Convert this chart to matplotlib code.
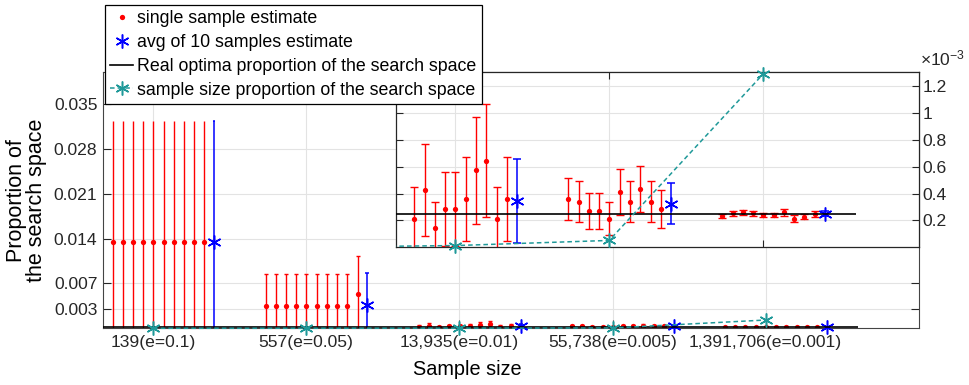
import numpy as np
import matplotlib.pyplot as plt
from matplotlib.lines import Line2D
from matplotlib.ticker import FuncFormatter

plt.rcParams['font.family'] = ['Liberation Sans', 'DejaVu Sans']
plt.rcParams['mathtext.default'] = 'regular'

# sample sizes (x categories)
sample_labels = ['139(e=0.1)', '557(e=0.05)', '13,935(e=0.01)',
                 '55,738(e=0.005)', '1,391,706(e=0.001)']
group_pos = [1, 2, 3, 4, 5]

# estimate from each of the 10 single samples, per sample size
single_est = [
    [0.0135, 0.0135, 0.0135, 0.0135, 0.0135, 0.0135, 0.0135, 0.0135, 0.0135, 0.0135],
    [0.00353, 0.00353, 0.00353, 0.00353, 0.00353, 0.00353, 0.00353, 0.00353, 0.00353, 0.00534],
    [0.000210, 0.000427, 0.000140, 0.000284, 0.000284, 0.000357, 0.000572, 0.000646, 0.000210, 0.000357],
    [0.000359, 0.000339, 0.000270, 0.000270, 0.000214, 0.000414, 0.000339, 0.000434, 0.000339, 0.000287],
    [0.000232, 0.000252, 0.000259, 0.000252, 0.000242, 0.000242, 0.000259, 0.000212, 0.000227, 0.000247],
]
single_err = [
    [0.0189, 0.0189, 0.0189, 0.0189, 0.0189, 0.0189, 0.0189, 0.0189, 0.0189, 0.0189],
    [0.0049, 0.0049, 0.0049, 0.0049, 0.0049, 0.0049, 0.0049, 0.0049, 0.0049, 0.0059],
    [0.000242, 0.000343, 0.000194, 0.000278, 0.000278, 0.000312, 0.000398, 0.000423, 0.000242, 0.000312],
    [0.000157, 0.000152, 0.000136, 0.000136, 0.000122, 0.000171, 0.000152, 0.000172, 0.000152, 0.000140],
    [0.000016, 0.000018, 0.000018, 0.000018, 0.000016, 0.000016, 0.000026, 0.000025, 0.000018, 0.000020],
]

# average of the 10 samples
avg_est = [0.0135, 0.00363, 0.000345, 0.000324, 0.000249]
avg_err = [0.0189, 0.0050, 0.000312, 0.000151, 0.000018]

# sample size / search space size
sample_prop = [1.3e-7, 5.1e-7, 1.28e-5, 5.1e-5, 1.29e-3]

# true proportion of optima
real_optima = 0.00025

RED, BLUE, TEAL = '#ff0000', '#0000ff', '#1f9999'
AX_COL = '#262626'
FS = 12.6
STAR = (6, 2, 0)

red_offsets = np.linspace(-0.265, 0.335, 10)
blue_offset = 0.40

fig = plt.figure(figsize=(9.7, 3.85), dpi=100)
ax = fig.add_axes([0.1062, 0.1473, 0.841, 0.6657])
ins = fig.add_axes([0.4082, 0.3577, 0.5389, 0.4553])


def draw_estimates(a, groups, cap_main, cap_first=None):
    for g in groups:
        cap = cap_main if (cap_first is None or g > 0) else cap_first
        a.errorbar(group_pos[g] + red_offsets, single_est[g], yerr=single_err[g],
                   fmt='o', ms=3.8, mfc=RED, mec='none', ecolor=RED, elinewidth=1,
                   capsize=cap, capthick=1, zorder=2)
        bcap = cap_main if (cap_first is None or g > 0) else 0.7
        a.errorbar(group_pos[g] + blue_offset, avg_est[g], yerr=avg_err[g],
                   fmt='none', ecolor=BLUE, elinewidth=1.1, capsize=bcap,
                   capthick=1.1, zorder=3)
        a.plot(group_pos[g] + blue_offset, avg_est[g], ls='none', marker=STAR,
               ms=10, mew=1.1, color=BLUE, zorder=4, clip_on=False)


# main axes
draw_estimates(ax, range(5), 1.2, cap_first=0)
ax.hlines(real_optima, 0.673, 5.6, color='black', lw=1.2, zorder=5)
ax.plot(group_pos, sample_prop, color=TEAL, ls=(0, (3, 2)), lw=1.1,
        marker=STAR, ms=10, mew=1.1, zorder=6, clip_on=False)

ax.set_xlim(0.673, 6.0)
ax.set_ylim(0, 0.04)
ax.set_xticks(group_pos)
ax.set_xticklabels(sample_labels)
ax.set_yticks([0.003, 0.007, 0.014, 0.021, 0.028, 0.035])
ax.yaxis.set_major_formatter(FuncFormatter(lambda v, p: f'{v:.3f}'))
ax.grid(True, color='#e3e3e3', lw=0.8)
ax.set_axisbelow(True)
ax.tick_params(direction='in', top=True, right=True, length=6, width=0.8,
               colors=AX_COL, labelsize=FS)
ax.tick_params(axis='x', pad=5)
ax.tick_params(axis='y', pad=4)
for s in ax.spines.values():
    s.set_color('#444444')
    s.set_linewidth(0.8)

ax.set_xlabel('Sample size', fontsize=14.3)
ax.xaxis.set_label_coords(0.447, -0.125)
ax.set_ylabel('Proportion of\nthe search space', fontsize=15.5, linespacing=0.95)
ax.yaxis.set_label_coords(-0.0687, 0.5)

# zoomed inset for the larger sample sizes
draw_estimates(ins, [2, 3, 4], 3)
ins.hlines(real_optima, 2.615, 5.6, color='black', lw=1.2, zorder=5)
ins.plot(group_pos, sample_prop, color=TEAL, ls=(0, (3, 2)), lw=1.1, zorder=6)
ins.plot(group_pos[2:], sample_prop[2:], ls='none', color=TEAL,
         marker=STAR, ms=10, mew=1.1, zorder=7, clip_on=False)

ins.set_xlim(2.615, 6.01)
ins.set_ylim(0, 1.305e-3)
ins.set_xticks(group_pos[2:])
ins.set_yticks([0.2e-3, 0.4e-3, 0.6e-3, 0.8e-3, 1.0e-3, 1.2e-3])
ins.yaxis.set_major_formatter(FuncFormatter(lambda v, p: f'{v * 1e3:g}'))
ins.grid(True, color='#e3e3e3', lw=0.8)
ins.set_axisbelow(True)
ins.tick_params(direction='in', top=True, bottom=True, left=True, right=True,
                labelbottom=False, labelleft=False, labelright=True,
                length=5, width=0.8, colors=AX_COL, labelsize=FS, pad=3)
for s in ins.spines.values():
    s.set_color(AX_COL)
    s.set_linewidth(0.9)
ins.annotate(r'$\times10^{-3}$', xy=(1, 1), xycoords='axes fraction',
             xytext=(1, 5), textcoords='offset points', ha='left', va='baseline',
             fontsize=FS, color=AX_COL)

handles = [
    Line2D([], [], ls='none', marker='o', ms=3.8, mfc=RED, mec='none'),
    Line2D([], [], ls='none', marker=STAR, ms=10, mew=1.1, color=BLUE),
    Line2D([], [], color='black', lw=1.2),
    Line2D([], [], color=TEAL, ls=(0, (3, 2)), lw=1.1, marker=STAR, ms=10, mew=1.1),
]
labels = ['single sample estimate', 'avg of 10 samples estimate',
          'Real optima proportion of the search space',
          'sample size proportion of the search space']
leg = fig.legend(handles, labels, loc='upper left',
                 bbox_to_anchor=(105 / 970, 1 - 5 / 385), borderaxespad=0,
                 fancybox=False, framealpha=1, edgecolor='black', fontsize=12.8,
                 handlelength=1.3, handletextpad=0.2, labelspacing=0.38,
                 borderpad=0.3)
leg.get_frame().set_linewidth(0.9)

fig.savefig('out.png', dpi=100)
